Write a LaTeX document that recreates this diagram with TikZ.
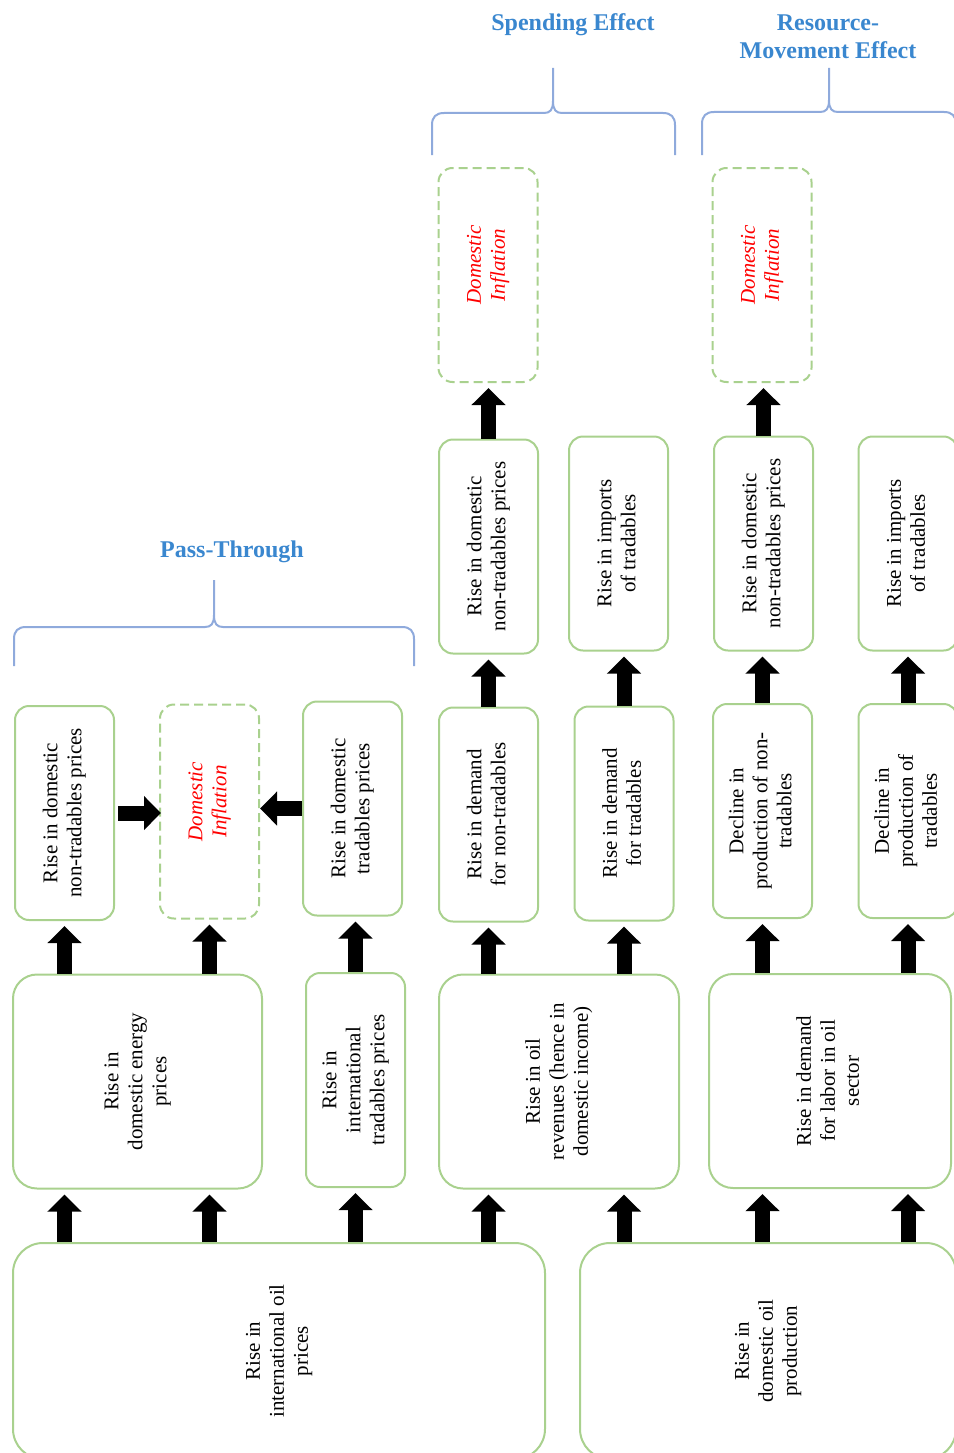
\documentclass[tikz,border=0pt]{standalone}
\usepackage{fontspec}
\setmainfont{Liberation Serif}
\usepackage{graphicx}
\usetikzlibrary{arrows.meta}

\definecolor{boxgreen}{HTML}{A9D18E}
\definecolor{labelblue}{HTML}{3A87CF}
\definecolor{bracecol}{HTML}{8FAADC}
\definecolor{inflred}{HTML}{FF0000}

% text turned to read from bottom to top
\newcommand{\vtxt}[1]{\rotatebox{90}{\begin{tabular}{@{}c@{}}#1\end{tabular}}}
% inflation text, set a little above the middle
\newcommand{\infltxt}{\rotatebox{90}{\hspace*{20pt}\begin{tabular}{@{}c@{}}Domestic\\Inflation\end{tabular}}}
% brace opening downwards: x-left, x-right, x-tip, y-bar, y-ends, y-tip
\newcommand{\upbrace}[6]{%
  \draw[bracecol, line width=2pt]
    (#1,#5) -- (#1,#4+12) .. controls (#1,#4+4) and (#1+4,#4) .. (#1+12,#4)
    -- (#3-9,#4) .. controls (#3-3,#4) and (#3,#4-3) .. (#3,#4-12) -- (#3,#6)
    (#3,#4-12) .. controls (#3,#4-3) and (#3+3,#4) .. (#3+9,#4)
    -- (#2-12,#4) .. controls (#2-4,#4) and (#2,#4+4) .. (#2,#4+12) -- (#2,#5);}

\begin{document}
\begin{tikzpicture}[x=1pt, y=-1pt,
    box/.style={draw=boxgreen, line width=2pt, rounded corners=14pt, inner sep=0pt,
      minimum width=99pt, minimum height=214pt, font=\fontsize{21}{24}\selectfont},
    bigbox/.style={box, rounded corners=24pt},
    inflbox/.style={box, dash pattern=on 9pt off 5pt, text=inflred,
      font=\fontsize{21}{24}\selectfont\itshape},
    blk/.style={line width=15pt, -{Triangle[length=17pt,width=33pt]}, shorten >=5pt},
    grouplabel/.style={text=labelblue, font=\fontsize{24}{28}\selectfont\bfseries, align=center}]

    \useasboundingbox (0,0) rectangle (953,1453);

    %--------------------%
    % Oil shocks
    %--------------------%
    \node[bigbox, rounded corners=30pt, minimum width=532pt, minimum height=216pt] (oilprice) at (279,1351) {\vtxt{Rise in\\international oil\\prices}};
    \node[bigbox, rounded corners=30pt, minimum width=376pt, minimum height=216pt] (oilprod) at (768,1351) {\vtxt{Rise in\\domestic oil\\production}};

    %--------------------%
    % First effects
    %--------------------%
    \node[bigbox, minimum width=249pt] (energy) at (137.5,1081.5) {\vtxt{Rise in\\domestic energy\\prices}};
    \node[box] (intltrad) at (355.5,1080) {\vtxt{Rise in\\international\\tradables prices}};
    \node[bigbox, minimum width=240pt] (revenue) at (559,1081.5) {\vtxt{Rise in oil\\revenues (hence in\\domestic income)}};
    \node[bigbox, minimum width=242pt] (labor) at (830,1081) {\vtxt{Rise in demand\\for labor in oil\\sector}};

    %--------------------%
    % Second effects
    %--------------------%
    \node[box] (pnontrad) at (64.5,813) {\vtxt{Rise in domestic\\non-tradables prices}};
    \node[inflbox] (pinfl) at (209.5,811.5) {\infltxt};
    \node[box] (ptrad) at (352.5,808.5) {\vtxt{Rise in domestic\\tradables prices}};
    \node[box] (dnontrad) at (488.5,814.5) {\vtxt{Rise in demand\\for non-tradables}};
    \node[box] (dtrad) at (624,813.5) {\vtxt{Rise in demand\\for tradables}};
    \node[box] (prodnon) at (762.5,811) {\vtxt{Decline in\\production of non-\\tradables}};
    \node[box] (prodtrad) at (908,811) {\vtxt{Decline in\\production of\\tradables}};

    %--------------------%
    % Third effects
    %--------------------%
    \node[box] (snontrad) at (488.5,546.5) {\vtxt{Rise in domestic\\non-tradables prices}};
    \node[box] (simport) at (618.5,543.5) {\vtxt{Rise in imports\\of tradables}};
    \node[box] (rnontrad) at (763.5,543.5) {\vtxt{Rise in domestic\\non-tradables prices}};
    \node[box] (rimport) at (908,543.5) {\vtxt{Rise in imports\\of tradables}};

    \node[inflbox] (sinfl) at (488,275) {\infltxt};
    \node[inflbox] (rinfl) at (762,275) {\infltxt};

    %--------------------%
    % Arrows
    %--------------------%
    % Shocks to first effects
    \draw[blk] (oilprice.north -| pnontrad) -- (energy.south -| pnontrad);
    \draw[blk] (oilprice.north -| pinfl) -- (energy.south -| pinfl);
    \draw[blk] (oilprice.north -| intltrad) -- (intltrad.south);
    \draw[blk] (oilprice.north -| dnontrad) -- (revenue.south -| dnontrad);
    \draw[blk] (oilprod.north -| dtrad) -- (revenue.south -| dtrad);
    \draw[blk] (oilprod.north -| prodnon) -- (labor.south -| prodnon);
    \draw[blk] (oilprod.north -| prodtrad) -- (labor.south -| prodtrad);

    % First to second effects
    \draw[blk] (energy.north -| pnontrad) -- (pnontrad.south);
    \draw[blk] (energy.north -| pinfl) -- (pinfl.south);
    \draw[blk] (intltrad.north) -- (ptrad.south -| intltrad);
    \draw[blk] (revenue.north -| dnontrad) -- (dnontrad.south);
    \draw[blk] (revenue.north -| dtrad) -- (dtrad.south);
    \draw[blk] (labor.north -| prodnon) -- (prodnon.south);
    \draw[blk] (labor.north -| prodtrad) -- (prodtrad.south);

    % Pass-through into inflation
    \draw[blk, shorten <=3pt, shorten >=-2pt] (pnontrad.east) -- (pinfl.west |- pnontrad.east);
    \draw[blk, shorten >=0pt] (ptrad.west) -- (pinfl.east |- ptrad.west);

    % Second to third effects
    \draw[blk] (dnontrad.north) -- (snontrad.south -| dnontrad);
    \draw[blk] (dtrad.north) -- (simport.south -| dtrad);
    \draw[blk] (prodnon.north) -- (rnontrad.south -| prodnon);
    \draw[blk] (prodtrad.north) -- (rimport.south -| prodtrad);

    % Into inflation
    \draw[blk] (snontrad.north) -- (sinfl.south -| snontrad);
    \draw[blk] (rnontrad.north) -- (rinfl.south -| rnontrad);

    %--------------------%
    % Braces and labels
    %--------------------%
    \upbrace{14}{414}{214}{627}{666}{580}
    \upbrace{432}{675}{553}{113}{155}{68}
    \upbrace{702}{956}{829}{112}{155}{68}

    \node[grouplabel] (passlbl) at (232,552) {Pass-Through};
    \node[grouplabel] (spendlbl) at (573,25) {Spending Effect};
    \node[grouplabel] (movelbl) at (828,37) {Resource-\\Movement Effect};

\end{tikzpicture}
\end{document}
